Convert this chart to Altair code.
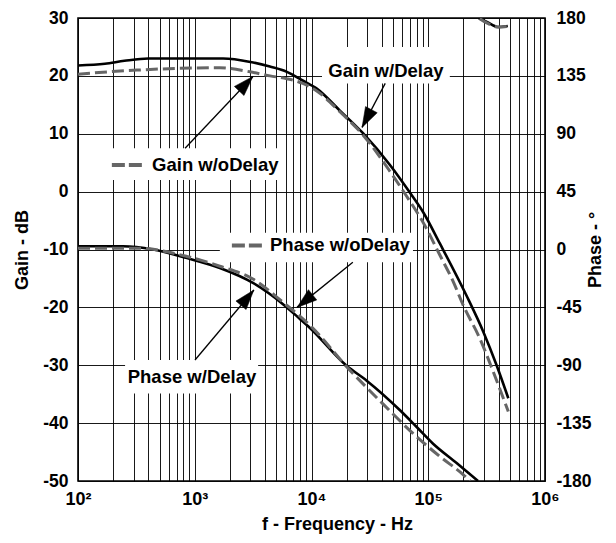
import math
import altair as alt
import pandas as pd

# ---------------- data ----------------
gain_delay_f = [100, 170, 250, 400, 1000, 1750, 3000, 4400, 6150, 8400, 11100, 17500,
                27600, 47000, 69800, 90800, 126000, 213000, 296000, 385000, 485000]
gain_delay_db = [21.8, 22.1, 22.6, 23.0, 23.0, 23.0, 22.4, 21.6, 20.7, 19.2, 17.8, 14.0,
                 10.1, 4.6, -0.2, -3.6, -9.0, -18.0, -24.2, -30.0, -35.7]

gain_nodelay_f = [100, 320, 1640, 2970, 4410, 6150, 8430, 11100, 17500, 27600, 47000,
                  65300, 90800, 126000, 164000, 200000, 277000, 360000, 485000]
gain_nodelay_db = [20.3, 21.0, 21.4, 20.7, 20.0, 19.5, 18.7, 17.4, 13.8, 9.8, 3.5,
                   -0.8, -5.4, -11.0, -15.6, -19.7, -25.4, -31.1, -38.0]

phase_delay_f = [100, 243, 439, 859, 1640, 3150, 5700, 7960, 9700, 20000, 29700,
                 57300, 79600, 110000, 175000, 267000]
phase_delay_deg = [2.5, 2.5, 0, -6.7, -14.4, -26, -42.5, -54, -61, -90.4, -102,
                   -125, -138, -151, -166, -180]
phase_delay_top_f = [270000, 318000, 395000, 480000]
phase_delay_top_deg = [180, 176.9, 173, 173.8]

phase_nodelay_f = [100, 320, 859, 1640, 3150, 5700, 9700, 21400, 40900, 74000,
                   126000, 199000, 228000]
phase_nodelay_deg = [1, 1, -5.4, -13, -23, -41, -59, -94, -120, -143, -161, -175, -180]
phase_nodelay_top_f = [276000, 320000, 400000, 480000]
phase_nodelay_top_deg = [179.5, 176, 173, 173.5]

# annotation labels (positions in data units: frequency, gain dB)
label_texts = ["Gain w/oDelay", "Gain w/Delay", "Phase w/oDelay", "Phase w/Delay"]
label_f = [431, 43400, 4410, 947]
label_g = [4.6, 20.9, -9.3, -32.0]
label_align = ["left", "center", "left", "center"]
box_f1 = [164, 12300, 1640, 253]
box_f2 = [5700, 153000, 74000, 3490]
box_g1 = [7.5, 25.0, -7.1, -29.1]
box_g2 = [2.0, 18.7, -12.2, -34.9]
sample_f1 = [195, 2080]
sample_f2 = [360, 3850]
sample_g = [4.6, -9.3]
arrow_tail_f = [826, 42800, 22600, 1005]
arrow_tail_g = [7.5, 18.7, -12.2, -29.1]
arrow_tip_f = [3150, 27100, 7520, 3210]
arrow_tip_g = [19.9, 11.1, -20.0, -17.0]

# ---------------- chart ----------------
W, H = 467, 463
FONT = "Liberation Sans"
F_MIN, F_MAX = 100, 1e6
G_MIN, G_MAX = -50, 30

grid_vals = [m * 10 ** e for e in range(2, 6) for m in range(1, 10)] + [1000000]

x_axis = alt.Axis(
    values=grid_vals,
    labelExpr="datum.value == 100 ? '10²' : datum.value == 1000 ? '10³' : "
              "datum.value == 10000 ? '10⁴' : datum.value == 100000 ? '10⁵' : "
              "datum.value == 1000000 ? '10⁶' : ''",
    labelOverlap=False, labelFlush=False, grid=True, ticks=False, domain=False,
    labelPadding=9, titlePadding=7, titleX=259, labelFontSize=18,
)
x_scale = alt.Scale(type="log", domain=[F_MIN, F_MAX], nice=False)

gain_axis = alt.Axis(values=list(range(-50, 31, 10)), grid=True, ticks=False,
                     domain=False, labelPadding=10, titlePadding=11,
                     labelExpr="'' + datum.value")
gain_scale = alt.Scale(domain=[G_MIN, G_MAX], nice=False, zero=False)

phase_axis = alt.Axis(orient="right", values=list(range(-180, 181, 45)), grid=False,
                      ticks=False, domain=False, labelPadding=11, titlePadding=-5,
                      titleAngle=270, titleBaseline="top",
                      labelExpr="'' + datum.value")
phase_scale = alt.Scale(domain=[-180, 180], nice=False, zero=False)


def X(field="f"):
    return alt.X(f"{field}:Q", scale=x_scale, axis=x_axis, title="f - Frequency - Hz")


def GY(field="g"):
    return alt.Y(f"{field}:Q", scale=gain_scale, axis=gain_axis, title="Gain - dB")


def PY(field="p"):
    return alt.Y(f"{field}:Q", scale=phase_scale, axis=phase_axis, title="Phase - °")


gain_df = pd.DataFrame(
    {"f": gain_delay_f + gain_nodelay_f,
     "g": gain_delay_db + gain_nodelay_db,
     "s": ["delay"] * len(gain_delay_f) + ["nodelay"] * len(gain_nodelay_f)})

phase_df = pd.DataFrame(
    {"f": phase_delay_f + phase_delay_top_f + phase_nodelay_f + phase_nodelay_top_f,
     "p": phase_delay_deg + phase_delay_top_deg + phase_nodelay_deg + phase_nodelay_top_deg,
     "s": ["delay"] * (len(phase_delay_f) + len(phase_delay_top_f))
          + ["nodelay"] * (len(phase_nodelay_f) + len(phase_nodelay_top_f)),
     "seg": ["a"] * len(phase_delay_f) + ["b"] * len(phase_delay_top_f)
            + ["a"] * len(phase_nodelay_f) + ["b"] * len(phase_nodelay_top_f)})

box_df = pd.DataFrame({"f": box_f1, "f2": box_f2, "g": box_g1, "g2": box_g2})
label_df = pd.DataFrame({"f": label_f, "g": label_g, "t": label_texts, "a": label_align})
sample_df = pd.DataFrame({"f": sample_f1, "f2": sample_f2, "g": sample_g})


def px(f):
    return W * (math.log10(f) - 2) / 4


def py(g):
    return H * (G_MAX - g) / (G_MAX - G_MIN)


angles = []
for tf, tg, hf, hg in zip(arrow_tail_f, arrow_tail_g, arrow_tip_f, arrow_tip_g):
    dx = px(hf) - px(tf)
    dy = py(hg) - py(tg)
    angles.append(math.degrees(math.atan2(dx, -dy)) % 360)
arrow_df = pd.DataFrame({"f": arrow_tail_f, "g": arrow_tail_g,
                         "f2": arrow_tip_f, "g2": arrow_tip_g, "ang": angles})

boxes = alt.Chart(box_df).mark_rect(fill="white", stroke=None).encode(
    x=X(), x2="f2:Q", y=GY(), y2="g2:Q")

gain_solid = alt.Chart(gain_df).transform_filter("datum.s == 'delay'").mark_line(
    color="black", strokeWidth=2.6, interpolate="monotone", clip=True).encode(
    x=X(), y=GY(), order="f:Q")
gain_dash = alt.Chart(gain_df).transform_filter("datum.s == 'nodelay'").mark_line(
    color="#666666", strokeWidth=3, strokeDash=[12, 5], interpolate="monotone",
    clip=True).encode(x=X(), y=GY(), order="f:Q")

samples = alt.Chart(sample_df).mark_rule(
    color="#666666", strokeWidth=4, strokeDash=[13, 4]).encode(
    x=X(), x2="f2:Q", y=GY())

arrow_lines = alt.Chart(arrow_df).mark_rule(color="black", strokeWidth=1.3).encode(
    x=X(), x2="f2:Q", y=GY(), y2="g2:Q")
arrow_heads = alt.Chart(arrow_df).mark_point(
    shape="M0,0L-0.33,1L0.33,1Z", filled=True, fill="black", stroke="black",
    strokeWidth=0.5, opacity=1, size=1600).encode(
    x=X("f2"), y=GY("g2"), angle=alt.Angle("ang:Q", scale=None))

labels_left = alt.Chart(label_df).transform_filter("datum.a == 'left'").mark_text(
    font=FONT, fontWeight="bold", fontSize=18.5, align="left", baseline="middle",
    color="black").encode(x=X(), y=GY(), text="t:N")
labels_center = alt.Chart(label_df).transform_filter("datum.a == 'center'").mark_text(
    font=FONT, fontWeight="bold", fontSize=18.5, align="center", baseline="middle",
    color="black").encode(x=X(), y=GY(), text="t:N")

gain_group = alt.layer(boxes, gain_solid, gain_dash, samples, arrow_lines,
                       arrow_heads, labels_left, labels_center)

phase_solid = alt.Chart(phase_df).transform_filter("datum.s == 'delay'").mark_line(
    color="black", strokeWidth=2.6, interpolate="monotone", clip=True).encode(
    x=X(), y=PY(), detail="seg:N", order="f:Q")
phase_dash = alt.Chart(phase_df).transform_filter("datum.s == 'nodelay'").mark_line(
    color="#666666", strokeWidth=3, strokeDash=[12, 5], interpolate="monotone",
    clip=True).encode(x=X(), y=PY(), detail="seg:N", order="f:Q")

phase_group = alt.layer(phase_solid, phase_dash)

chart = alt.layer(gain_group, phase_group).resolve_scale(y="independent").properties(
    width=W, height=H,
    autosize=alt.AutoSizeParams(type="none"),
    padding={"left": 70, "top": 10, "right": 63, "bottom": 54},
    background="white",
).configure_view(stroke="black", strokeWidth=1.6).configure_axis(
    labelFont=FONT, labelFontWeight="bold", labelFontSize=17.5, labelColor="black",
    titleFont=FONT, titleFontWeight="bold", titleFontSize=18, titleColor="black",
    gridColor="black", gridOpacity=0.9, gridWidth=1,
)

chart.save("out.html", embed_options={"renderer": "svg", "actions": False})
